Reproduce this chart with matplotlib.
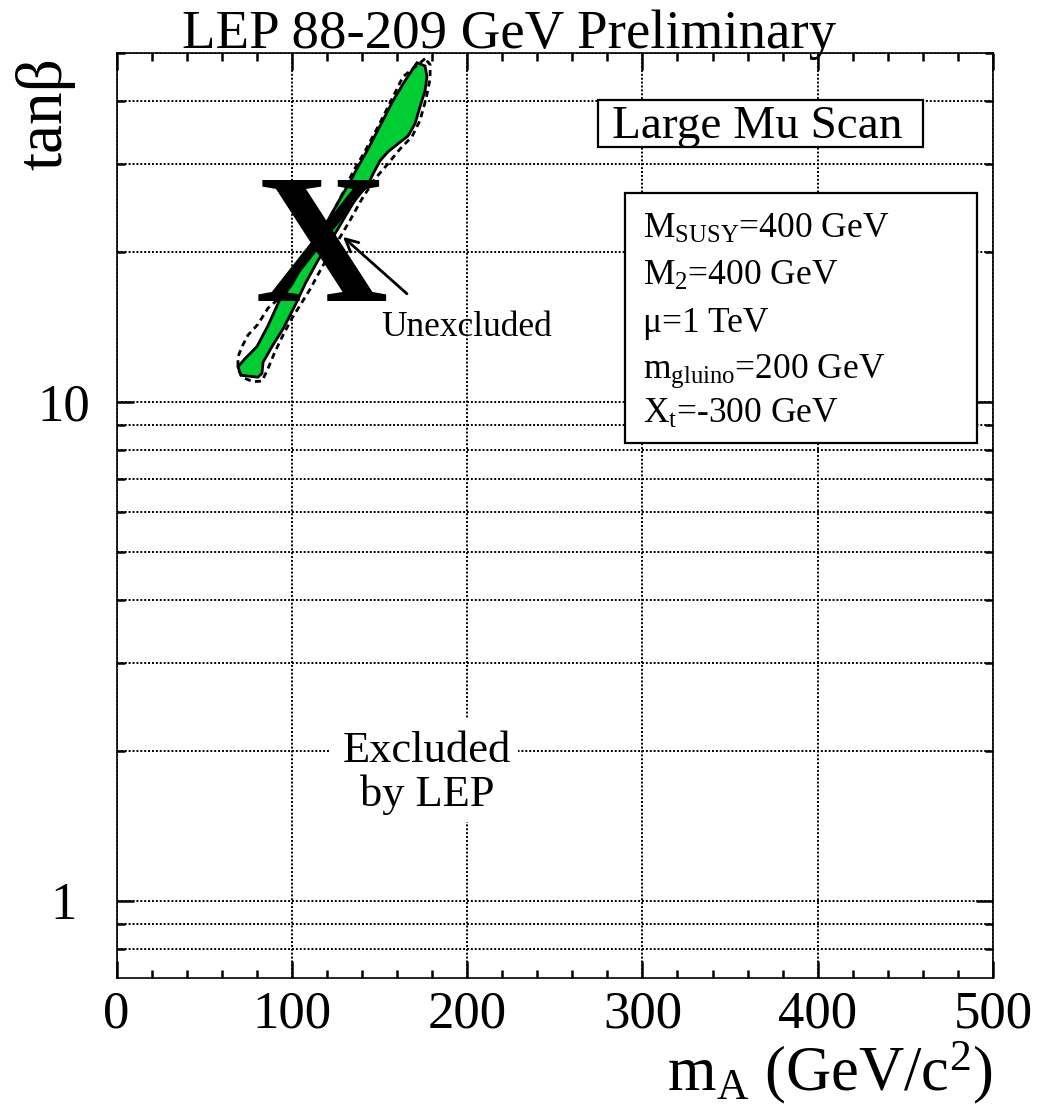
import matplotlib
matplotlib.use("Agg")
import matplotlib.pyplot as plt
from matplotlib.patches import Rectangle

plt.rcParams["font.family"] = ["Liberation Serif", "DejaVu Serif"]
plt.rcParams["mathtext.fontset"] = "custom"
plt.rcParams["mathtext.rm"] = "Liberation Serif"
plt.rcParams["mathtext.it"] = "Liberation Serif:italic"
plt.rcParams["mathtext.bf"] = "Liberation Serif:bold"

# Observed unexcluded region in the (mA, tan beta) plane
allowed_mA = [171.4, 164.6, 157.7, 150.3, 143.5, 137.8, 133.2, 127.5, 121.8, 114.9,
              107.5, 100.1, 92.7, 86.4, 80.1, 73.3, 69.3, 71.0, 80.7, 83.0,
              83.6, 88.7, 95.0, 99.0, 103.0, 107.5, 114.9, 122.9, 130.4, 137.8,
              142.9, 146.3, 150.3, 154.9, 160.6, 166.3, 170.3, 173.1, 176.0, 177.1, 176.0]
allowed_tanb = [47.8, 44.0, 40.1, 35.7, 32.1, 29.6, 27.6, 25.5, 23.5, 21.2,
                19.2, 17.2, 15.9, 14.2, 12.9, 12.2, 11.75, 11.3, 11.2, 11.4,
                12.0, 12.9, 14.0, 14.9, 15.9, 17.2, 19.2, 21.2, 23.5, 26.0,
                27.0, 28.6, 30.4, 31.7, 32.9, 34.1, 36.1, 39.0, 42.0, 44.8, 47.1]

# Expected (median) boundary
expected_mA = [176.0, 163.4, 154.9, 149.2, 141.8, 134.9, 130.3, 124.6, 117.2, 110.4,
               103.0, 96.1, 86.4, 80.7, 75.0, 71.6, 69.3, 69.3, 71.6, 77.9, 83.0,
               86.4, 90.4, 95.0, 100.1, 104.7, 110.4, 117.2, 125.2, 133.2, 140.0,
               147.5, 154.9, 161.7, 168.6, 173.1, 176.6, 178.9, 178.9, 176.0]
expected_tanb = [48.7, 44.8, 39.0, 35.6, 31.8, 28.9, 26.7, 24.4, 22.0, 19.9,
                 18.0, 16.5, 15.4, 14.3, 13.6, 12.9, 12.3, 11.65, 11.2, 10.97, 11.0,
                 11.65, 12.6, 13.6, 14.7, 15.6, 16.8, 18.6, 20.7, 23.1, 25.5,
                 28.0, 30.0, 32.1, 34.0, 36.6, 40.5, 44.4, 47.4, 48.7]

x_major = [0, 100, 200, 300, 400, 500]
x_labels = ["0", "100", "200", "300", "400", "500"]
y_major = [1, 10]
y_labels = ["1", "10"]
y_minor = [0.8, 0.9, 2, 3, 4, 5, 6, 7, 8, 9, 20, 30, 40, 50]

W, H = 1037, 1116


def fx(px):
    return px / W


def fy(py):
    return 1 - py / H


fig = plt.figure(figsize=(W / 100, H / 100), dpi=100)
ax = fig.add_axes([fx(116.5), fy(978), (993 - 116.5) / W, (978 - 53) / H])
ax.set_xlim(0, 500)
ax.set_yscale("log")
ax.set_ylim(0.7, 50)

ax.set_xticks(x_major, x_labels)
ax.set_xticks(range(0, 501, 20), minor=True)
ax.set_yticks(y_major, y_labels)
ax.set_yticks(y_minor, minor=True)
ax.yaxis.set_minor_formatter(matplotlib.ticker.NullFormatter())

dot = (0, (1, 1))
ax.grid(True, which="major", axis="x", color="k", lw=1.4, ls=dot)
ax.grid(True, which="both", axis="y", color="k", lw=1.4, ls=dot)

ax.tick_params(which="both", direction="in", top=True, right=True, width=1.8, color="k")
ax.tick_params(which="major", length=12)
ax.tick_params(which="minor", length=6)
ax.tick_params(axis="x", labelsize=38, pad=9)
ax.tick_params(axis="y", labelsize=38, pad=38)
for lab in ax.get_yticklabels():
    lab.set_horizontalalignment("center")
for s in ax.spines.values():
    s.set_linewidth(1.2)

ax.fill(allowed_mA, allowed_tanb, facecolor="#00cc33", edgecolor="black", lw=2.0, zorder=3)
ax.plot(expected_mA, expected_tanb, color="black", lw=2.0, ls=(0, (2.2, 1.6)), zorder=3)

ax.text(117, 15.9, "X", fontsize=133, fontweight="bold", ha="center", va="baseline", zorder=4)
ax.annotate("", xy=(129.2, 21.4), xytext=(165.7, 16.46),
            arrowprops=dict(arrowstyle="->,head_length=0.9,head_width=0.45",
                            lw=2, color="k", shrinkA=0, shrinkB=0), zorder=5)
ax.text(150.9, 13.56, "Unexcluded", fontsize=25.5, ha="left", va="baseline", zorder=5)

# white panel behind the exclusion label
fig.add_artist(Rectangle((fx(330), fy(822)), (518 - 330) / W, (822 - 718) / H,
                         transform=fig.transFigure, fc="white", ec="none"))
fig.text(fx(427), fy(762), "Excluded", fontsize=32, ha="center", va="baseline")
fig.text(fx(427), fy(806), "by LEP", fontsize=32, ha="center", va="baseline")

# scan label
fig.add_artist(Rectangle((fx(598), fy(147)), (923 - 598) / W, (147 - 100) / H,
                         transform=fig.transFigure, fc="white", ec="black", lw=1.6))
fig.text(fx(757), fy(138), "Large Mu Scan", fontsize=34, ha="center", va="baseline")

# parameter box
fig.add_artist(Rectangle((fx(625), fy(442.7)), (976.7 - 625) / W, (442.7 - 192.7) / H,
                         transform=fig.transFigure, fc="white", ec="black", lw=1.6))
params = [r"M$_{\mathrm{SUSY}}$=400 GeV",
          r"M$_{\mathrm{2}}$=400 GeV",
          "μ=1 TeV",
          r"m$_{\mathrm{gluino}}$=200 GeV",
          r"X$_{\mathrm{t}}$=-300 GeV"]
for txt, base in zip(params, [238, 285, 332, 378, 423]):
    fig.text(fx(643), fy(base), txt, fontsize=25.5, ha="left", va="baseline")

fig.text(fx(509), fy(48), "LEP 88-209 GeV Preliminary", fontsize=39.5, ha="center", va="baseline")
fig.text(fx(993), fy(1090), r"m$_{\mathrm{A}}$ (GeV/c$^{\mathrm{2}}$)", fontsize=45,
         ha="right", va="baseline")
fig.text(fx(45), fy(57), "tanβ", fontsize=47, rotation=90, ha="center", va="top")

fig.savefig("out.png", dpi=100)
